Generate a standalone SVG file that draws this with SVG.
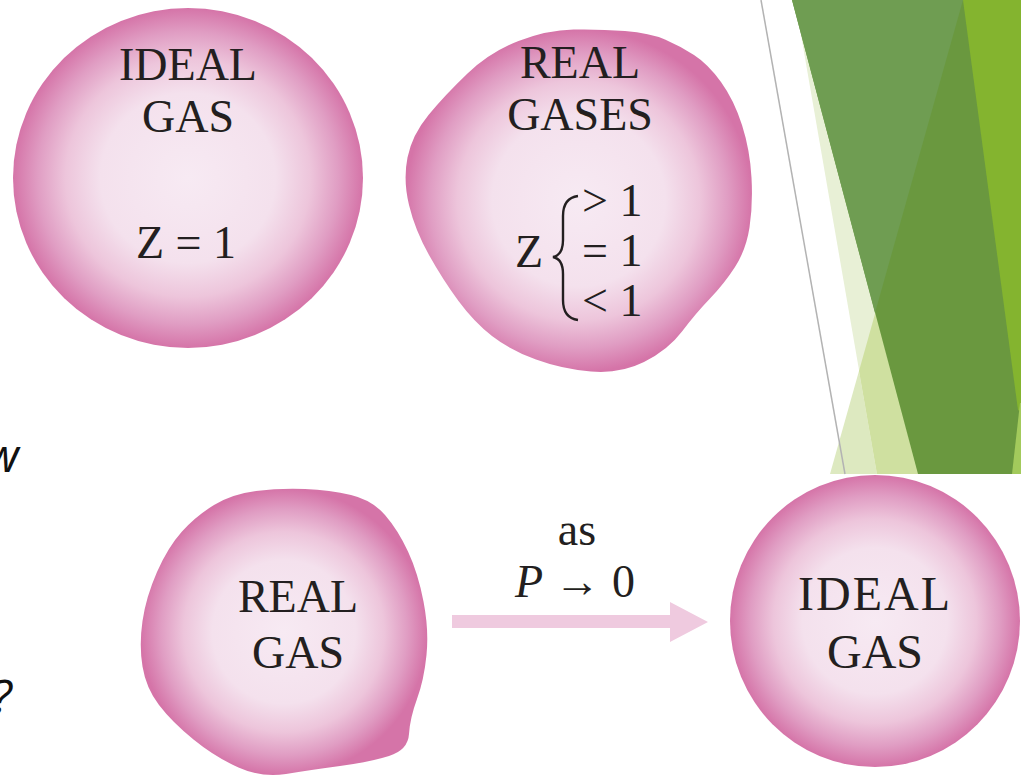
<svg xmlns="http://www.w3.org/2000/svg" width="1021" height="777" viewBox="0 0 1021 777">
<defs>
<radialGradient id="pink" cx="50%" cy="50%" r="50%">
<stop offset="0" stop-color="#f7eaf3"/>
<stop offset="0.5" stop-color="#f4e1ed"/>
<stop offset="0.7" stop-color="#edc5db"/>
<stop offset="0.86" stop-color="#e09dc3"/>
<stop offset="1" stop-color="#d574a8"/>
</radialGradient>
<style>
.blob{fill:url(#pink)}
.lbl{font-family:"Liberation Serif","Times New Roman",serif;font-size:46px;fill:#231f20}
.mid{text-anchor:middle}
.side{font-family:"Open Sans","DejaVu Sans",sans-serif;font-style:italic;font-size:46px;fill:#111}
</style>
</defs>
<rect width="1021" height="777" fill="#ffffff"/>
<g id="decor">
<polygon points="795,0 1021,0 1021,474 877,474" fill="#e8f0d6"/>
<polygon points="859,371 877,474 830,474" fill="#dde9c0"/>
<polygon points="859,371 963,0 1021,0 1021,474 877,474" fill="#cfe0a0"/>
<polygon points="792,0 1021,0 1021,474 918,474" fill="#6a983f"/>
<polygon points="792,0 963,0 875,313" fill="#6f9d52"/>
<polygon points="963,0 1021,0 1021,412 1018,410" fill="#84b42f"/>
<polygon points="1020,403 1021,403 1021,474 1012,474" fill="#a3ca5c"/>
<line x1="761" y1="0" x2="845" y2="474" stroke="#b3b3b3" stroke-width="1.5"/>
</g>
<g id="side-text">
<text class="side" x="-14" y="472">w</text>
<text class="side" x="-8" y="713">?</text>
</g>
<g id="ideal-gas-top">
<ellipse class="blob" cx="188" cy="178" rx="175" ry="170"/>
<text class="lbl mid" x="188" y="80">IDEAL</text>
<text class="lbl mid" x="188" y="132">GAS</text>
<text class="lbl mid" x="186" y="258">Z = 1</text>
</g>
<g id="real-gases-top">
<path class="blob" d="M518.5,41 Q547,30 573.5,29.5 Q600,29 625,31 Q650,33 665,39.5 Q680,46 694,55 Q708,64 721,82 Q734,100 742,125 Q750,150 751.5,177.5 Q753,205 749.5,227.5 Q746,250 735,267 Q724,284 710,298.5 Q696,313 682,331.5 Q668,350 644,362 Q620,374 591,371.5 Q562,369 536,359.5 Q510,350 492,336 Q474,322 458.5,301 Q443,280 429,255 Q415,230 409,205 Q403,180 407.5,157.5 Q412,135 428.5,115 Q445,95 467.5,73.5 Q490,52 518.5,41 Z"/>
<text class="lbl mid" x="580" y="78">REAL</text>
<text class="lbl mid" x="580" y="130">GASES</text>
<text class="lbl" x="515" y="267">Z</text>
<path d="M578,196 Q563,198 563,216 L563,240 Q563,255 553,257 Q563,259 563,274 L563,300 Q563,318 578,320" fill="none" stroke="#231f20" stroke-width="2.4"/>
<text class="lbl" x="582" y="216">&gt; 1</text>
<text class="lbl" x="582" y="266">= 1</text>
<text class="lbl" x="582" y="316">&lt; 1</text>
</g>
<g id="real-gas-bottom">
<path class="blob" d="M256,491 Q280,488 305,489 Q330,490 351,495 Q372,500 385,515 Q398,530 408,551.5 Q418,573 423.5,601.5 Q429,630 426.5,655 Q424,680 417,699 Q410,718 409,734 Q408,750 389,756 Q370,762 340,766 Q310,770 286,774 Q262,778 238.5,767.5 Q215,757 193.5,739.5 Q172,722 159,705 Q146,688 142.5,666.5 Q139,645 142.5,621 Q146,597 157,572 Q168,547 182,531.5 Q196,516 214,505 Q232,494 256,491 Z"/>
<text class="lbl mid" x="298" y="612">REAL</text>
<text class="lbl mid" x="298" y="668">GAS</text>
</g>
<g id="ideal-gas-bottom">
<ellipse class="blob" cx="875" cy="621" rx="145" ry="146"/>
<text class="lbl mid" x="875" y="610" style="font-size:48px;letter-spacing:2px">IDEAL</text>
<text class="lbl mid" x="875" y="668" style="font-size:48px">GAS</text>
</g>
<g id="connectors">
<polygon points="452,615 670,615 670,602 708,622 670,642 670,628 452,628" fill="#efcadf"/>
<text class="lbl mid" x="577" y="545">as</text>
<text class="lbl mid" x="575" y="597"><tspan font-style="italic">P</tspan> → 0</text>
</g>
</svg>
